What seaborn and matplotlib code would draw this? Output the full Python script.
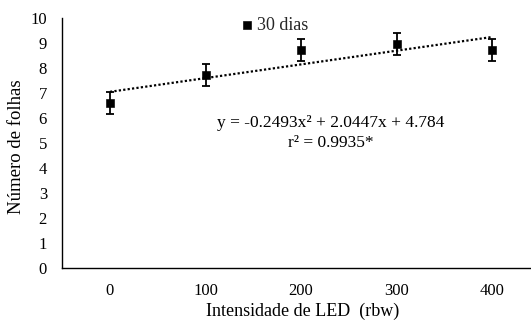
import numpy as np
import pandas as pd
import matplotlib
matplotlib.use("Agg")
import matplotlib.pyplot as plt
import seaborn as sns

categories = ["0", "100", "200", "300", "400"]
values = [6.6, 7.72, 8.72, 8.96, 8.72]
errors = [0.45, 0.43, 0.43, 0.43, 0.45]
series_name = "30 dias"
equation = "y = -0.2493x² + 2.0447x + 4.784"
r2_text = "r² = 0.9935*"

sns.set_theme(style="white")
plt.rcParams["font.family"] = ["Liberation Serif", "DejaVu Serif"]

df = pd.DataFrame({"pos": np.arange(len(categories)), "val": values, "err": errors})

fig = plt.figure(figsize=(5.31, 3.21), dpi=100)
ax = fig.add_axes([62.25 / 531, 53 / 321, 477.5 / 531, 250 / 321])

sns.regplot(data=df, x="pos", y="val", ci=None, scatter=False, truncate=True,
            line_kws=dict(color="black", linestyle=(0, (1, 1)), linewidth=1.6), ax=ax)
ax.errorbar(df["pos"], df["val"], yerr=df["err"], fmt="none", ecolor="black",
            elinewidth=1.3, capsize=2.6, capthick=1.3, zorder=3)
sns.scatterplot(data=df, x="pos", y="val", marker="s", s=30, color="black",
                edgecolor="black", ax=ax, zorder=4, label=series_name)

ax.set_xlim(-0.5, 4.5)
ax.set_ylim(0, 10)
ax.set_yticks(range(0, 11))
ax.set_xticks(df["pos"])
ax.set_xticklabels(categories)
ax.tick_params(axis="both", length=0, labelsize=12, colors="black")
ax.tick_params(axis="y", pad=11)
ax.tick_params(axis="x", pad=10.5)
for s in ["top", "right"]:
    ax.spines[s].set_visible(False)
for s in ["left", "bottom"]:
    ax.spines[s].set_color("black")
    ax.spines[s].set_linewidth(1.0)

ax.set_xlabel("Intensidade de LED  (rbw)", fontsize=13, color="black")
ax.xaxis.set_label_coords((303 - 62.25) / 477.5, (268 - 303) / 250)
ax.set_ylabel("Número de folhas", fontsize=13.5, color="black")
ax.yaxis.set_label_coords((25 - 62.25) / 477.5, (268 - 147) / 250)

leg = ax.legend(loc="upper left", bbox_to_anchor=((240 - 62.25) / 477.5, (268 - 17) / 250),
                frameon=False, fontsize=13, handlelength=0.8, handletextpad=0.15,
                borderpad=0, borderaxespad=0, markerscale=1.0)

ax.text(331 / 531, 1 - 123 / 321, equation, transform=fig.transFigure,
        ha="center", va="center", fontsize=12.5, color="black")
ax.text(331 / 531, 1 - 143 / 321, r2_text, transform=fig.transFigure,
        ha="center", va="center", fontsize=12.5, color="black")

fig.savefig("out.png", dpi=100)
